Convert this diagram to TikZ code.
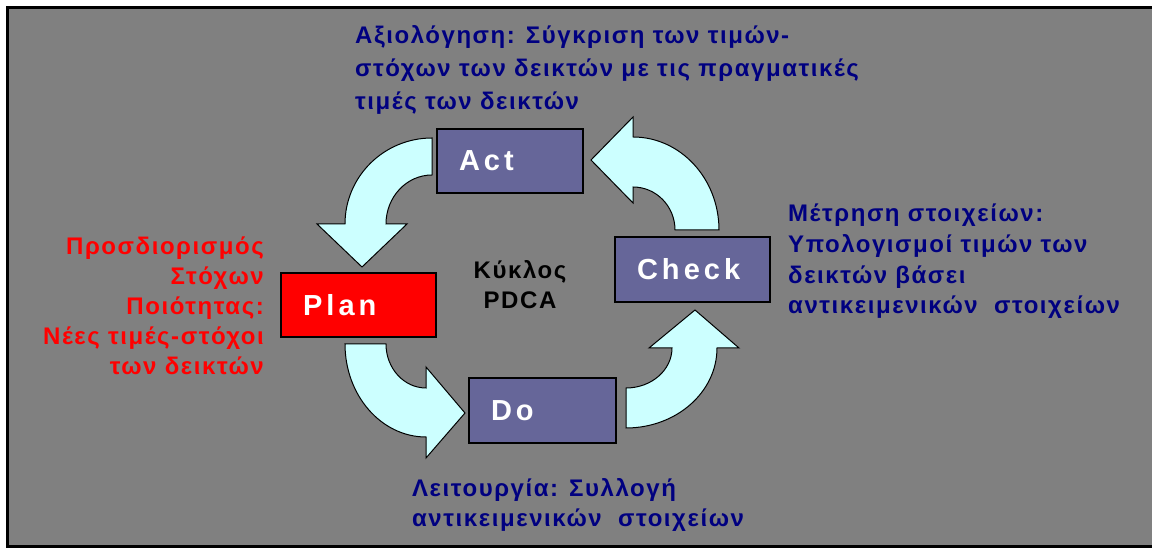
\documentclass[tikz,border=0pt]{standalone}
\usepackage{fontspec}
\newfontfamily\txtfont[LetterSpace=6.5]{Liberation Sans}
\newfontfamily\lblfont[LetterSpace=14]{Liberation Sans}
\definecolor{panelgray}{HTML}{808080}
\definecolor{boxfill}{HTML}{666699}
\definecolor{arrowfill}{HTML}{CCFFFF}
\definecolor{navytext}{HTML}{000080}
\tikzset{
  stepbox/.style={draw=black, line width=1.5pt, fill=boxfill, text=white,
    font=\lblfont\bfseries\fontsize{29}{30}\selectfont,
    inner xsep=22pt, inner ysep=0pt, align=left, text width=#1},
  cyclearrow/.style={draw=black, line width=1pt, fill=arrowfill, line join=miter},
  note/.style={font=\txtfont\bfseries\fontsize{24}{30}\selectfont, inner sep=0pt},
}
\begin{document}
\begin{tikzpicture}[x=1pt,y=1pt]
\useasboundingbox (0,0) rectangle (1152,548);
\fill[white] (0,0) rectangle (1152,548);
\begin{scope}
  \clip (0,0) rectangle (1152,548);
  \draw[line width=2.5pt, fill=panelgray] (7.5,1.5) rectangle (1170,540.5);
\end{scope}

% curved block arrows of the cycle
\draw[cyclearrow] (432,410) arc[start angle=90, end angle=180, x radius=87, y radius=86]
  -- (317,324) -- (362,281) -- (407,324) -- (386,324)
  arc[start angle=180, end angle=90, x radius=46, y radius=49] -- cycle;
\draw[cyclearrow] (719,318) arc[start angle=0, end angle=90, x radius=86, y radius=93]
  -- (633,431) -- (591,388) -- (633,345) -- (633,361)
  arc[start angle=90, end angle=0, x radius=42, y radius=43] -- cycle;
\draw[cyclearrow] (345,204) arc[start angle=180, end angle=270, x radius=81, y radius=93]
  -- (426,90) -- (465,135) -- (426,181) -- (426,160)
  arc[start angle=270, end angle=180, x radius=40, y radius=44] -- cycle;
\draw[cyclearrow] (626,120) arc[start angle=270, end angle=360, x radius=91, y radius=80]
  -- (739,200) -- (695,238) -- (649,200) -- (672,200)
  arc[start angle=0, end angle=-90, x radius=46, y radius=40] -- cycle;

% the four PDCA steps
\node[stepbox=102pt, minimum height=64pt] (actbox) at (510,387) {Act};
\node[stepbox=111pt, minimum height=65pt] (checkbox) at (692.5,278.5) {Check};
\node[stepbox=111pt, minimum height=64pt, fill=red] (planbox) at (358.5,243) {Plan};
\node[stepbox=103pt, minimum height=65pt] (dobox) at (542.5,137.5) {Do};

% descriptions (the base anchor sits on the last line)
\node[note, text=navytext, align=left, anchor=base west,
  font=\txtfont\bfseries\fontsize{24}{33}\selectfont] (evaltext) at (355,438)
  {Αξιολόγηση: Σύγκριση των τιμών-\\στόχων των δεικτών με τις πραγματικές\\τιμές των δεικτών};
\node[note, text=red, align=right, anchor=base east] (plantext) at (264,173)
  {Προσδιορισμός\\Στόχων\\Ποιότητας:\\Νέες τιμές-στόχοι\\των δεικτών};
\node[note, text=navytext, align=left, anchor=base west,
  font=\txtfont\bfseries\fontsize{24}{30.7}\selectfont] (checktext) at (788,234)
  {Μέτρηση στοιχείων:\\Υπολογισμοί τιμών των\\δεικτών βάσει\\αντικειμενικών\ \ στοιχείων};
\node[note, text=navytext, align=left, anchor=base west] (dotext) at (412,21)
  {Λειτουργία: Συλλογή\\αντικειμενικών\ \ στοιχείων};
\node[note, text=black, align=center] (cycletext) at (520,263)
  {Κύκλος\\PDCA};
\end{tikzpicture}
\end{document}
